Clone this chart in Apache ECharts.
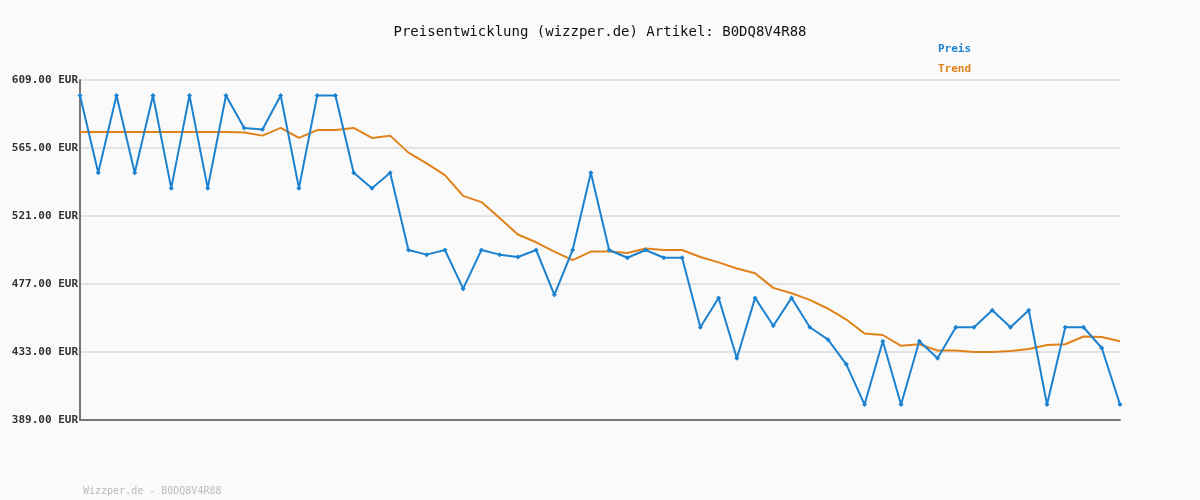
<!DOCTYPE html>
<html>
<head>
<meta charset="utf-8">
<title>Preisentwicklung</title>
<script src="https://cdn.jsdelivr.net/npm/echarts@6/dist/echarts.min.js"></script>
<style>
  * { margin: 0; padding: 0; }
  body { background: #fafafa; }
</style>
</head>
<body>
<div id="main" style="width:1200px;height:500px;"></div>
<script>
// Preis und Trend
let preis = [599, 549, 599, 549, 599, 539, 599, 539, 599, 578, 577, 599, 539, 599, 599, 549, 539, 549, 499, 496,
  499, 474, 499, 496, 494.5, 499, 470, 499, 549, 499, 494, 499, 494, 494, 449, 468, 429, 468, 450, 468,
  449, 441, 425, 399, 440, 399, 440, 429, 449, 449, 460, 449, 460, 399, 449, 449, 435.6, 399];
let trend = [575.4, 575.4, 575.4, 575.4, 575.4, 575.4, 575.4, 575.4, 575.4, 575, 573, 578, 571.5, 576.6, 576.6, 578, 571.5, 573, 562, 555,
  547.5, 534, 530, 519.7, 509, 504, 498, 492.5, 498, 498, 497, 500, 499, 499, 494.5, 491, 487, 484, 474.5, 471,
  466.7, 461, 454, 445, 444, 437, 438, 434, 434, 433, 433, 433.7, 435, 437.5, 438, 443, 442.7, 440];
let kategorien = preis.map((v, i) => String(i + 1));

let myChart = echarts.init(document.getElementById('main'));
let mono = 'DejaVu Sans Mono';
let option = {
  backgroundColor: '#fafafa',
  animation: false,
  title: [{
    text: 'Preisentwicklung (wizzper.de) Artikel: B0DQ8V4R88',
    left: 'center', top: 20,
    textStyle: { fontFamily: mono, fontSize: 14, fontWeight: 'normal', color: '#111' }
  }, {
    text: 'Wizzper.de - B0DQ8V4R88',
    left: 78, top: 481,
    textStyle: { fontFamily: mono, fontSize: 10, fontWeight: 'normal', color: '#bbb' }
  }],
  legend: {
    orient: 'vertical', left: 928, top: 39, itemGap: 9,
    icon: 'rect', itemWidth: 0, itemHeight: 0,
    textStyle: { fontFamily: mono, fontSize: 11, fontWeight: 'bold', color: 'inherit' },
    data: ['Preis', 'Trend']
  },
  grid: { left: 80, right: 80, top: 80, bottom: 80 },
  xAxis: {
    type: 'category', data: kategorien, boundaryGap: false,
    axisLine: { lineStyle: { color: '#777', width: 2 } },
    axisTick: { show: false }, axisLabel: { show: false }, splitLine: { show: false }
  },
  yAxis: {
    type: 'value', min: 389, max: 609, interval: 44,
    axisLine: { show: true, lineStyle: { color: '#777', width: 2 } },
    axisTick: { show: false },
    splitLine: { lineStyle: { color: '#e3e3e3', width: 2 } },
    axisLabel: {
      formatter: v => v.toFixed(2) + ' EUR', margin: 2, verticalAlign: 'middle',
      fontFamily: mono, fontSize: 11, fontWeight: 'bold', color: '#333'
    }
  },
  series: [{
    name: 'Preis', type: 'line', data: preis, color: '#1c82d0',
    symbol: 'diamond', symbolSize: 5, lineStyle: { width: 2 }, z: 3
  }, {
    name: 'Trend', type: 'line', data: trend, color: '#e0821a',
    symbol: 'none', lineStyle: { width: 2 }, z: 2
  }]
};
myChart.setOption(option);
</script>
</body>
</html>
